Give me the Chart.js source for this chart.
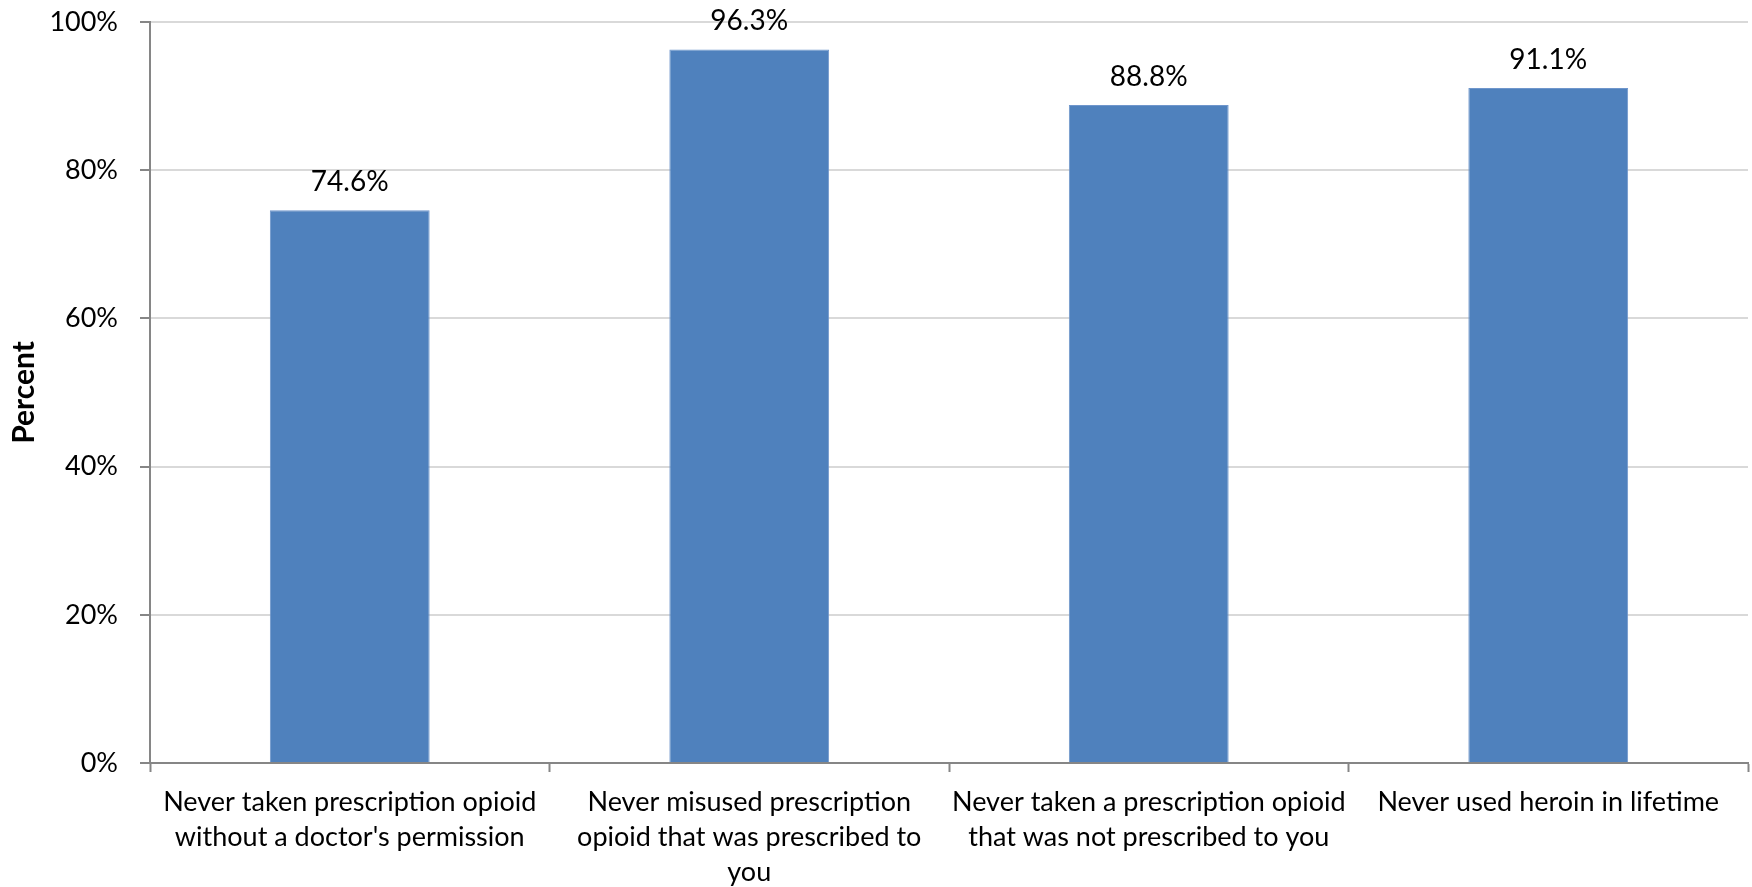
<!DOCTYPE html>
<html>
<head>
<meta charset="utf-8">
<script src="https://cdn.jsdelivr.net/npm/chart.js@4/dist/chart.umd.min.js"></script>
<style>
  html, body { margin: 0; padding: 0; background: #fff; }
  #wrap { width: 1752px; height: 887px; position: relative; }
</style>
</head>
<body>
<div id="wrap"><canvas id="opioidChart"></canvas></div>
<script>
const categories = [
  ['Never taken prescription opioid', "without a doctor's permission"],
  ['Never misused prescription', 'opioid that was prescribed to', 'you'],
  ['Never taken a prescription opioid', 'that was not prescribed to you'],
  ['Never used heroin in lifetime']
];
const percentValues = [74.6, 96.3, 88.8, 91.1];
const yTicks = [0, 20, 40, 60, 80, 100];

const FONT = 'Lato, "Open Sans", sans-serif';

// draws the value above each bar
const barLabels = {
  id: 'barLabels',
  afterDatasetsDraw(chart) {
    const ctx = chart.ctx;
    const meta = chart.getDatasetMeta(0);
    ctx.save();
    ctx.font = '28px ' + FONT;
    ctx.fillStyle = '#000';
    ctx.textAlign = 'center';
    ctx.textBaseline = 'alphabetic';
    meta.data.forEach((bar, i) => {
      ctx.fillText(percentValues[i].toFixed(1) + '%', bar.x, bar.y - 19);
    });
    ctx.restore();
  }
};

new Chart(document.getElementById('opioidChart'), {
  type: 'bar',
  data: {
    labels: categories,
    datasets: [{
      data: percentValues,
      backgroundColor: '#4f81bd',
      borderColor: '#6f96cc',
      borderWidth: 1,
      barPercentage: 0.4,
      categoryPercentage: 1
    }]
  },
  options: {
    responsive: true,
    maintainAspectRatio: false,
    animation: false,
    layout: { padding: { top: 22, right: 4, left: 0, bottom: 0 } },
    plugins: {
      legend: { display: false },
      tooltip: { enabled: false }
    },
    scales: {
      x: {
        offset: true,
        grid: {
          offset: true,
          drawOnChartArea: false,
          drawTicks: true,
          tickLength: 9,
          tickColor: '#868686',
          tickWidth: 2
        },
        border: { color: '#868686', width: 2 },
        ticks: {
          color: '#000',
          font: { family: FONT, size: 27, lineHeight: 1.3 },
          padding: 13,
          maxRotation: 0,
          autoSkip: false
        },
        afterFit(scale) {
          scale.height = 124;
          scale.paddingLeft = 0;
          scale.paddingRight = 0;
        }
      },
      y: {
        min: 0,
        max: 100,
        afterBuildTicks(scale) { scale.ticks = yTicks.map(v => ({ value: v })); },
        grid: {
          color: '#d9d9d9',
          lineWidth: 2,
          tickLength: 10,
          tickColor: '#868686',
          tickWidth: 2
        },
        border: { color: '#868686', width: 2 },
        ticks: {
          color: '#000',
          font: { family: FONT, size: 27 },
          padding: 22,
          callback: v => v + '%'
        },
        title: {
          display: true,
          text: 'Percent',
          color: '#000',
          font: { family: FONT, size: 30, weight: 'bold' },
          padding: { top: 6, bottom: 0 }
        },
        afterFit(scale) {
          scale.width = 150;
          scale.paddingTop = 0;
          scale.paddingBottom = 0;
        }
      }
    }
  },
  plugins: [barLabels]
});
</script>
</body>
</html>
